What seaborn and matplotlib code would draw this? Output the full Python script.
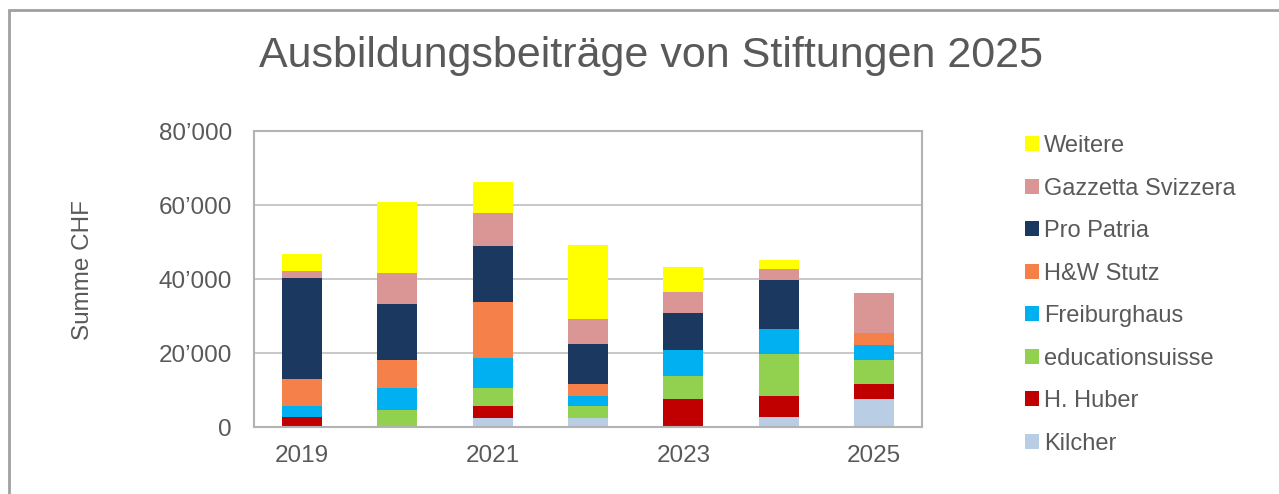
import matplotlib
matplotlib.use("Agg")
import matplotlib.pyplot as plt
from matplotlib.patches import Patch, Rectangle
import numpy as np
import seaborn as sns

# Stacked contributions per year (CHF)
years = ["2019", "2020", "2021", "2022", "2023", "2024", "2025"]
kilcher = [0, 0, 2500, 2500, 0, 2600, 7500]
huber = [2700, 0, 3100, 0, 7700, 5900, 4100]
educationsuisse = [0, 4600, 5000, 3100, 6000, 11200, 6500]
freiburghaus = [2900, 6000, 8000, 2900, 7000, 6900, 4100]
stutz = [7500, 7500, 15200, 3100, 0, 0, 3200]
pro_patria = [27100, 15200, 15100, 10700, 10000, 13000, 0]
gazzetta = [2000, 8300, 9000, 6900, 5900, 3000, 10800]
weitere = [4450, 19200, 8400, 20000, 6600, 2600, 0]

series_names = ["Kilcher", "H. Huber", "educationsuisse", "Freiburghaus",
                "H&W Stutz", "Pro Patria", "Gazzetta Svizzera", "Weitere"]
series_values = [kilcher, huber, educationsuisse, freiburghaus,
                 stutz, pro_patria, gazzetta, weitere]
series_colors = ["#B9CDE5", "#C00000", "#92D050", "#00B0F0",
                 "#F5804A", "#1A3860", "#D99694", "#FFFF00"]

y_ticks = [0, 20000, 40000, 60000, 80000]
y_ticklabels = ["0", "20\u2019000", "40\u2019000", "60\u2019000", "80\u2019000"]
x_label_years = ["2019", "2021", "2023", "2025"]

TEXT = "#595959"
GRID = "#BFBFBF"

sns.set_theme(style="white")
plt.rcParams["font.family"] = ["Liberation Sans", "DejaVu Sans"]

fig = plt.figure(figsize=(12.79, 4.94), dpi=100)
ax = fig.add_axes([254 / 1279, 67 / 494, 668 / 1279, 296 / 494])

bottom = np.zeros(len(years))
for name, vals, col in zip(series_names, series_values, series_colors):
    sns.barplot(x=years, y=vals, bottom=bottom, color=col, width=0.42,
                errorbar=None, saturation=1, linewidth=0, ax=ax)
    bottom = bottom + np.array(vals)

ax.set_ylim(0, 80000)
ax.set_xlim(-0.5, len(years) - 0.5)
ax.set_yticks(y_ticks)
ax.set_yticklabels(y_ticklabels)
ax.set_xticks([years.index(y) for y in x_label_years])
ax.set_xticklabels(x_label_years)
ax.tick_params(axis="y", length=0, pad=16, labelsize=17.5, labelcolor=TEXT)
ax.tick_params(axis="x", length=0, pad=13, labelsize=17.5, labelcolor=TEXT)
ax.set_xlabel("")
ax.set_ylabel("")
ax.yaxis.grid(True, color=GRID, linewidth=1.2)
ax.set_axisbelow(True)
for sp in ax.spines.values():
    sp.set_color("#B3B3B3")
    sp.set_linewidth(1.5)

fig.text(83 / 1279, 1 - 270 / 494, "Summe CHF", rotation=90,
         ha="center", va="center", fontsize=17.5, color=TEXT)
fig.text(651 / 1279, 1 - 56 / 494, "Ausbildungsbeitr\u00e4ge von Stiftungen 2025",
         ha="center", va="center", fontsize=31, color=TEXT)

handles = [Patch(facecolor=c, edgecolor="none", label=n)
           for n, c in zip(series_names, series_colors)][::-1]
fig.legend(handles=handles, loc="upper left",
           bbox_to_anchor=(1025 / 1279, 1 - 135 / 494), frameon=False,
           fontsize=17, labelcolor=TEXT, handlelength=0.6, handleheight=0.6,
           handletextpad=0.2, labelspacing=0.87, borderpad=0, borderaxespad=0)

# outer chart border (only top and left edges visible in the crop)
fig.add_artist(Rectangle((9 / 1279, -0.2), 1.5, 1.2 - 10 / 494,
                         transform=fig.transFigure, fill=False,
                         edgecolor="#A0A0A0", linewidth=2))

fig.savefig("out.png", dpi=100)
